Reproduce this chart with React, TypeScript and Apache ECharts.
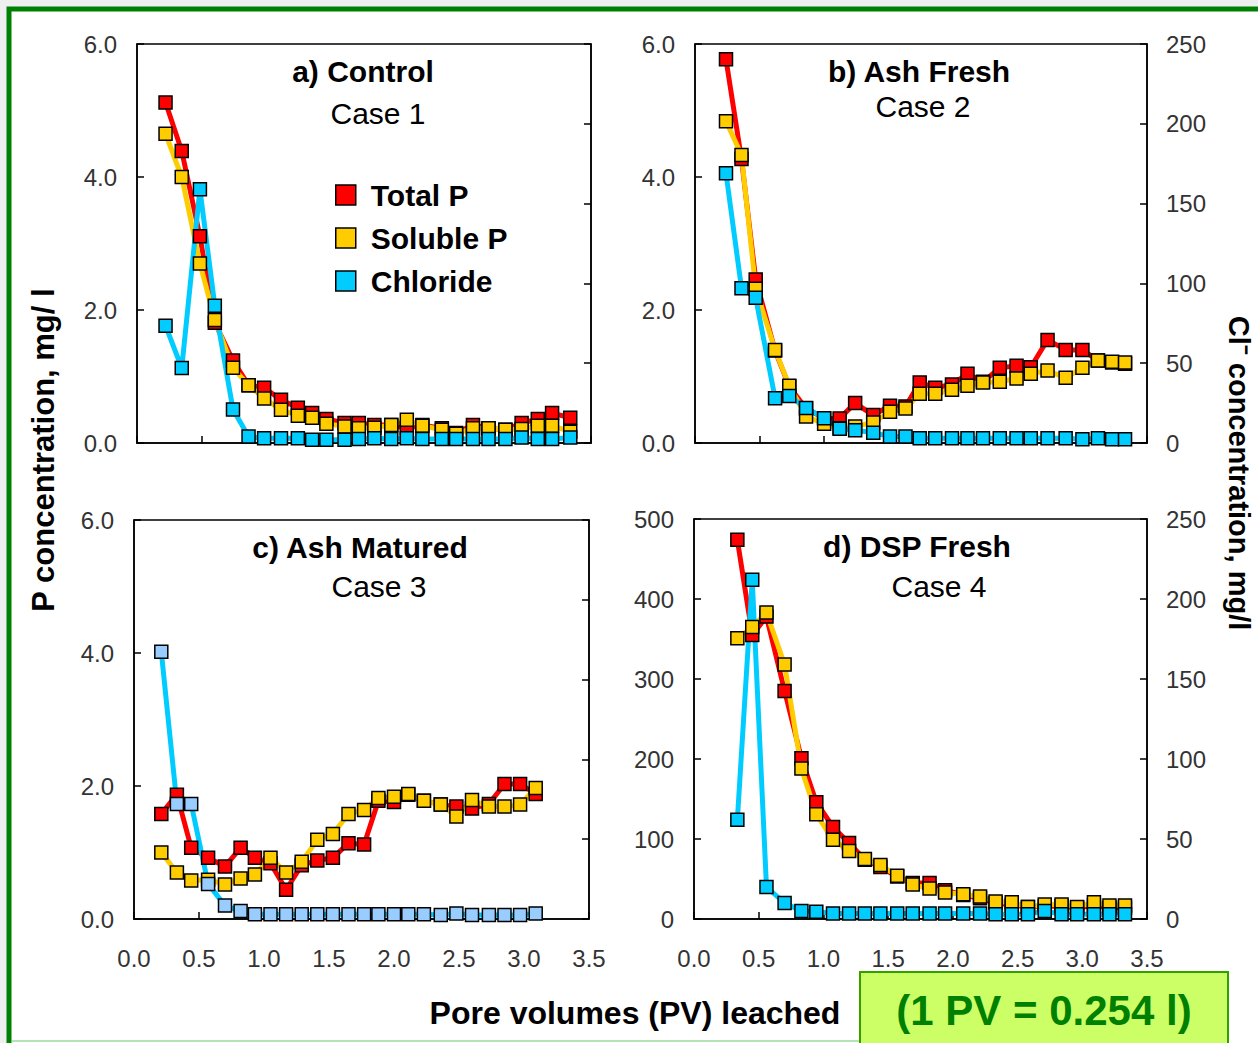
import React, { useEffect, useRef } from "react";
import * as echarts from "echarts";

// ---------- data ----------
const xTicks = [0, 0.5, 1, 1.5, 2, 2.5, 3, 3.5];

// a) Control – Case 1
const pvA = [0.22, 0.345, 0.485, 0.6, 0.74, 0.86, 0.98, 1.11, 1.24, 1.35, 1.46, 1.6, 1.71, 1.83, 1.96, 2.08, 2.2, 2.35, 2.46, 2.59, 2.71, 2.84, 2.965, 3.09, 3.2, 3.34];
const totalPA = [5.12, 4.39, 3.11, 1.81, 1.24, 0.87, 0.83, 0.65, 0.53, 0.45, 0.36, 0.3, 0.3, 0.27, 0.27, 0.22, 0.27, 0.22, 0.15, 0.27, 0.22, 0.2, 0.3, 0.36, 0.45, 0.38];
const solublePA = [4.65, 4.0, 2.7, 1.85, 1.13, 0.87, 0.67, 0.5, 0.41, 0.38, 0.29, 0.25, 0.22, 0.23, 0.27, 0.35, 0.26, 0.2, 0.14, 0.22, 0.22, 0.2, 0.21, 0.26, 0.26, 0.17];
const chlorideA = [73.5, 47, 159, 86, 21, 4, 3, 3, 3, 2, 2, 2, 2.5, 3, 2.5, 3, 2.5, 2.5, 2.5, 2.5, 2.5, 2.5, 3.5, 2.5, 2.5, 3.5];

// b) Ash Fresh – Case 2
const pvB = [0.24, 0.36, 0.47, 0.62, 0.73, 0.86, 1.0, 1.12, 1.24, 1.38, 1.51, 1.63, 1.74, 1.86, 1.99, 2.11, 2.23, 2.36, 2.49, 2.6, 2.73, 2.87, 3.0, 3.12, 3.23, 3.33];
const totalPB = [5.77, 4.27, 2.46, 1.39, 0.85, 0.52, 0.37, 0.37, 0.6, 0.42, 0.56, 0.55, 0.91, 0.83, 0.88, 1.04, 0.92, 1.13, 1.16, 1.14, 1.55, 1.4, 1.4, 1.24, 1.21, 1.19];
const solublePB = [4.84, 4.33, 2.32, 1.4, 0.86, 0.4, 0.29, 0.22, 0.25, 0.31, 0.47, 0.52, 0.74, 0.74, 0.8, 0.86, 0.91, 0.92, 0.97, 1.04, 1.09, 0.98, 1.13, 1.24, 1.22, 1.21];
const chlorideB = [169, 97, 91, 28, 29.5, 22, 15.5, 9, 8, 6.5, 4, 4, 3, 3, 3, 3, 3, 3, 3, 3, 3, 3, 2.3, 3, 2.3, 2.3];

// c) Ash Matured – Case 3
const pvC = [0.21, 0.33, 0.44, 0.57, 0.7, 0.82, 0.93, 1.05, 1.17, 1.29, 1.41, 1.53, 1.65, 1.77, 1.88, 2.0, 2.11, 2.23, 2.36, 2.48, 2.6, 2.73, 2.85, 2.97, 3.09];
const totalPC = [1.58, 1.87, 1.07, 0.92, 0.79, 1.07, 0.92, 0.84, 0.44, 0.81, 0.88, 0.92, 1.14, 1.12, 1.78, 1.76, 1.87, 1.78, 1.72, 1.69, 1.66, 1.73, 2.03, 2.03, 1.88];
const solublePC = [1.0, 0.7, 0.58, 0.59, 0.52, 0.61, 0.67, 0.92, 0.7, 0.86, 1.19, 1.28, 1.58, 1.64, 1.82, 1.84, 1.88, 1.78, 1.72, 1.54, 1.79, 1.69, 1.69, 1.72, 1.97];
const chlorideC = [167.5, 72, 72, 22, 8.4, 5, 3, 3, 3, 3, 3, 3, 3, 3, 3, 3, 3, 3, 2.5, 3.5, 2.5, 2.5, 2.5, 2.5, 3.5];

// d) DSP Fresh – Case 4
const pvD = [0.335, 0.45, 0.56, 0.7, 0.83, 0.945, 1.074, 1.198, 1.32, 1.44, 1.57, 1.69, 1.82, 1.94, 2.08, 2.21, 2.33, 2.455, 2.58, 2.71, 2.84, 2.96, 3.09, 3.21, 3.33];
const totalPD = [474, 355, 378, 285, 201, 146, 115, 95, 74, 65, 53, 45, 45, 36, 30, 26, 20, 17.5, 15, 16, 16, 14, 17, 14, 14];
const solublePD = [351, 365, 383, 318, 188, 131, 99, 85, 75, 67.5, 54, 43, 38, 33, 31, 28, 22, 21, 15, 18, 18, 15, 21, 17, 17];
const chlorideD = [62, 212, 20, 10, 5, 4.5, 3.5, 3.5, 3.5, 3.5, 3.5, 3.5, 3.5, 3.5, 3.5, 3.5, 3, 3, 3, 5, 3, 3, 3, 3, 3];

const panelTitles = ["a) Control", "b) Ash Fresh", "c) Ash Matured", "d) DSP Fresh"];
const caseLabels = ["Case 1", "Case 2", "Case 3", "Case 4"];
const seriesNames = ["Total P", "Soluble P", "Chloride"];

// ---------- styling ----------
const FONT = "'Liberation Sans', Arial, sans-serif";
const RED = "#ff0000";
const GOLD = "#ffcc00";
const CYAN = "#00ccff";
const LIGHTBLUE = "#99ccff";

const grids = [
  { left: 137, top: 44, width: 454, height: 399 },
  { left: 695, top: 44, width: 452, height: 399 },
  { left: 134, top: 520, width: 455, height: 399 },
  { left: 694, top: 519, width: 453, height: 400 },
];

const panels = [
  { pv: pvA, t: totalPA, s: solublePA, c: chlorideA, clMarker: CYAN },
  { pv: pvB, t: totalPB, s: solublePB, c: chlorideB, clMarker: CYAN },
  { pv: pvC, t: totalPC, s: solublePC, c: chlorideC, clMarker: LIGHTBLUE },
  { pv: pvD, t: totalPD, s: solublePD, c: chlorideD, clMarker: CYAN },
];

const titlePos = [
  { t: [363, 71], c: [378, 113] },
  { t: [919, 71], c: [923, 106] },
  { t: [360, 547], c: [379, 586] },
  { t: [917, 546], c: [939, 586] },
];

const zip = (xs: number[], ys: number[]) => xs.map((x, i) => [x, ys[i]]);

function buildOption() {
  const lineAxis = { show: true, lineStyle: { color: "#000", width: 1.5 } };
  const tick = { show: true, inside: true, length: 7, lineStyle: { color: "#000", width: 1.5 } };
  const labelBase = { fontSize: 24, color: "#333", fontFamily: FONT };

  const xAxis = grids.map((_, i) => ({
    type: "value",
    gridIndex: i,
    min: xTicks[0],
    max: xTicks[xTicks.length - 1],
    interval: 0.5,
    axisLine: lineAxis,
    axisTick: tick,
    splitLine: { show: false },
    axisLabel: { ...labelBase, show: i >= 2, margin: 27, formatter: (v: number) => v.toFixed(1) },
  }));

  const yAxis: any[] = [];
  grids.forEach((_, i) => {
    yAxis.push({
      type: "value",
      gridIndex: i,
      position: "left",
      min: 0,
      max: i === 3 ? 500 : 6,
      interval: i === 3 ? 100 : 2,
      axisLine: lineAxis,
      axisTick: tick,
      splitLine: { show: false },
      axisLabel: {
        ...labelBase,
        margin: 20,
        formatter: (v: number) => (i === 3 ? String(v) : v.toFixed(1)),
      },
    });
    yAxis.push({
      type: "value",
      gridIndex: i,
      position: "right",
      min: 0,
      max: 250,
      interval: 50,
      axisLine: lineAxis,
      axisTick: tick,
      splitLine: { show: false },
      axisLabel: { ...labelBase, show: i === 1 || i === 3, margin: 19 },
    });
  });

  const series: any[] = [];
  panels.forEach((p, i) => {
    const mk = (name: string, data: number[], color: string, marker: string, yIdx: number) => ({
      type: "line",
      name,
      xAxisIndex: i,
      yAxisIndex: yIdx,
      data: zip(p.pv, data),
      symbol: "rect",
      symbolSize: 13,
      showAllSymbol: true,
      lineStyle: { color, width: 5 },
      itemStyle: { color: marker, borderColor: "#000", borderWidth: 1.5 },
      emphasis: { disabled: true },
    });
    series.push(mk(seriesNames[0], p.t, RED, RED, 2 * i));
    series.push(mk(seriesNames[1], p.s, GOLD, GOLD, 2 * i));
    series.push(mk(seriesNames[2], p.c, CYAN, p.clMarker, 2 * i + 1));
  });

  const txt = (x: number, y: number, text: string, font: string, extra: any = {}) => ({
    type: "text",
    x,
    y,
    z: 10,
    ...extra,
    style: {
      text,
      font,
      fill: extra.fill || "#000",
      align: "center",
      verticalAlign: "middle",
      textAlign: "center",
      textVerticalAlign: "middle",
    },
  });

  const graphic: any[] = [
    { type: "rect", z: -2, shape: { x: 0, y: 0, width: 1258, height: 1043 }, style: { fill: "#efefef" } },
    {
      type: "rect",
      z: -1,
      shape: { x: 9, y: 9, width: 1300, height: 1100 },
      style: { fill: "#ffffff", stroke: "#008000", lineWidth: 5 },
    },
    { type: "line", z: -1, shape: { x1: 12, y1: 1041, x2: 860, y2: 1041 }, style: { stroke: "#b5e3b5", lineWidth: 2 } },
  ];
  titlePos.forEach((tp, i) => {
    graphic.push(txt(tp.t[0], tp.t[1], panelTitles[i], `bold 30px ${FONT}`));
    graphic.push(txt(tp.c[0], tp.c[1], caseLabels[i], `30px ${FONT}`));
  });
  graphic.push(txt(43, 450, "P concentration, mg/ l", `bold 31px ${FONT}`, { rotation: Math.PI / 2 }));
  graphic.push(txt(1239, 473, "Cl\u207B concentration, mg/l", `bold 29px ${FONT}`, { rotation: -Math.PI / 2 }));
  graphic.push(txt(635, 1013, "Pore volumes (PV) leached", `bold 32px ${FONT}`));
  graphic.push({
    type: "rect",
    z: 5,
    shape: { x: 860, y: 972, width: 368, height: 90 },
    style: { fill: "#ccff66", stroke: "#33a000", lineWidth: 2 },
  });
  graphic.push(txt(1044, 1010, "(1 PV = 0.254 l)", `bold 42px ${FONT}`, { fill: "#008000" }));

  return {
    animation: false,
    backgroundColor: "transparent",
    grid: grids.map((g) => ({ ...g, show: true, borderColor: "#000", borderWidth: 1.5, backgroundColor: "transparent" })),
    xAxis,
    yAxis,
    series,
    legend: {
      data: seriesNames,
      orient: "vertical",
      left: 330,
      top: 175,
      itemWidth: 20,
      itemHeight: 20,
      itemGap: 13,
      icon: "rect",
      itemStyle: { borderColor: "#000", borderWidth: 1.5 },
      textStyle: { fontSize: 30, fontWeight: "bold", color: "#000", fontFamily: FONT, lineHeight: 30, padding: [0, 0, 0, 10] },
      selectedMode: false,
    },
    graphic,
  };
}

export default function App() {
  const ref = useRef<HTMLDivElement>(null);
  useEffect(() => {
    const chart = echarts.init(ref.current!, null, { renderer: "svg" });
    chart.setOption(buildOption() as any);
    return () => chart.dispose();
  }, []);
  return <div ref={ref} style={{ position: "absolute", left: 0, top: 0, width: 1258, height: 1043 }} />;
}
